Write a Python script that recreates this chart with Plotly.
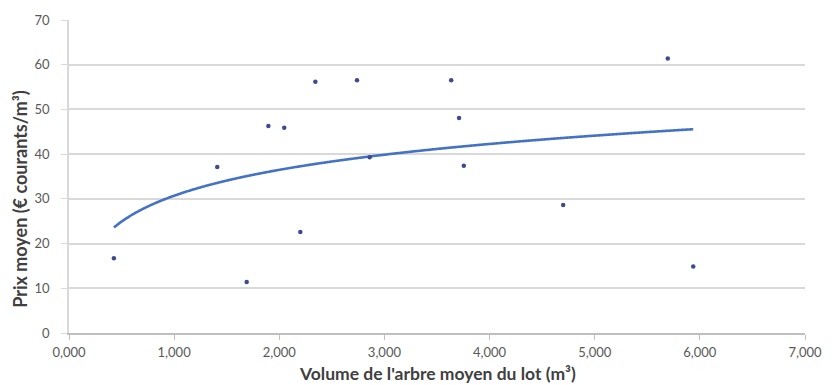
import numpy as np
import plotly.graph_objects as go

# Data
volume = [0.427, 1.41, 1.69, 1.896, 2.047, 2.20, 2.343, 2.739, 2.86, 3.635, 3.71, 3.755, 4.70, 5.695, 5.937]
prix = [16.7, 37.1, 11.4, 46.3, 45.9, 22.6, 56.2, 56.5, 39.3, 56.5, 48.1, 37.4, 28.6, 61.4, 14.9]

# Logarithmic trendline (Excel-like), coefficients
trend_a = 8.35
trend_b = 30.7

x_ticks = [0, 1, 2, 3, 4, 5, 6, 7]
y_ticks = [0, 10, 20, 30, 40, 50, 60, 70]

x_title = "Volume de l'arbre moyen du lot (m³)"
y_title = "Prix moyen (€ courants/m³)"

xt = np.linspace(min(volume), max(volume), 400)
yt = trend_a * np.log(xt) + trend_b

font_family = "Lato, 'Open Sans', sans-serif"

fig = go.Figure()
fig.add_trace(go.Scatter(
    x=xt, y=yt, mode="lines",
    line=dict(color="#4472c4", width=2.6, shape="spline"),
    hoverinfo="skip", showlegend=False,
))
fig.add_trace(go.Scatter(
    x=volume, y=prix, mode="markers",
    marker=dict(color="#3f4a8f", size=4.5),
    showlegend=False,
))

fig.update_layout(
    width=834, height=385,
    margin=dict(l=69, r=23, t=19, b=52),
    paper_bgcolor="white", plot_bgcolor="white",
    separators=",.",
    font=dict(family=font_family, color="#595959", size=13),
    xaxis=dict(
        range=[0, 7], tickvals=x_ticks, tickformat=".3f",
        showgrid=False, zeroline=False,
        showline=True, linecolor="#bfbfbf", linewidth=1.5,
        ticks="outside", ticklen=5, tickcolor="#bfbfbf",
        tickfont=dict(size=13, color="#595959"),
        ticklabelstandoff=2,
    ),
    yaxis=dict(
        range=[0, 70], tickvals=y_ticks,
        showgrid=True, gridcolor="#d9d9d9", gridwidth=1.5,
        zeroline=False,
        showline=True, linecolor="#d9d9d9", linewidth=1.5,
        ticks="outside", ticklen=6, tickcolor="#d9d9d9",
        tickfont=dict(size=13, color="#595959"),
        ticklabelstandoff=9,
    ),
    annotations=[
        dict(text=x_title, xref="paper", yref="paper", x=0.5, y=-0.13,
             xanchor="center", yanchor="middle", showarrow=False,
             font=dict(size=17.5, color="#404040", family=font_family, weight="bold")),
        dict(text=y_title, xref="paper", yref="paper", x=-0.066, y=0.43,
             xanchor="center", yanchor="middle", showarrow=False, textangle=-90,
             font=dict(size=18, color="#404040", family=font_family, weight="bold")),
    ],
)

fig.write_html("out.html")
